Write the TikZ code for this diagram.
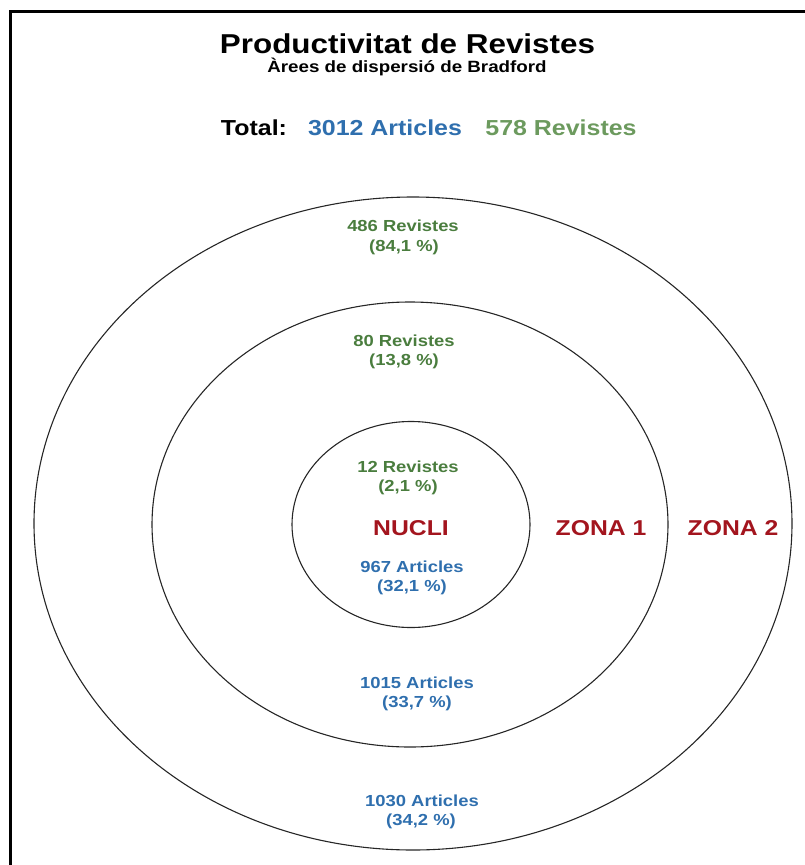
\documentclass[tikz,border=0pt]{standalone}
\usepackage{fontspec}
\usepackage{tikz}
\usetikzlibrary{positioning}
\newfontfamily\diagfont{Liberation Sans}[FakeStretch=1.15]
\definecolor{rgreen}{HTML}{4A7D3E}
\definecolor{lgreen}{HTML}{6C9A5E}
\definecolor{ablue}{HTML}{2F6FAE}
\definecolor{zred}{HTML}{A3151E}
\tikzset{
  txt/.style    = {inner sep=0pt, anchor=base, font=\diagfont\bfseries},
  big/.style    = {txt, font=\diagfont\bfseries\fontsize{27.3}{30}\selectfont},
  sub/.style    = {txt, font=\diagfont\bfseries\fontsize{16.3}{18}\selectfont},
  tot/.style    = {txt, font=\diagfont\bfseries\fontsize{21.7}{24}\selectfont},
  zone/.style   = {txt, text=zred, font=\diagfont\bfseries\fontsize{21.5}{24}\selectfont},
  rev/.style    = {txt, text=rgreen, font=\diagfont\bfseries\fontsize{16}{18}\selectfont},
  art/.style    = {txt, text=ablue, font=\diagfont\bfseries\fontsize{16}{18}\selectfont},
  ring/.style   = {draw=black!85, line width=1.1pt},
}
\begin{document}
\begin{tikzpicture}[x=1pt, y=-1pt]
\useasboundingbox (0,0) rectangle (805,865);
% ---------- frame ----------
\draw[line width=3pt] (10.5,865) -- (10.5,11.5) -- (805,11.5);
% ---------- header ----------
\node[big] (title) at (407.5,53) {Productivitat de Revistes};
\node[sub] (subtitle) at (407,72) {Àrees de dispersió de Bradford};
\node[tot] (total) at (254,135) {Total:};
\node[tot, text=ablue] (totart) at (385,135) {3012 Articles};
\node[tot, text=lgreen] (totrev) at (561,135) {578 Revistes};
% ---------- rings ----------
\draw[ring] (413,523.5) ellipse [x radius=379, y radius=326.5];
\draw[ring] (410,524.5) ellipse [x radius=258, y radius=222.5];
\draw[ring] (411,524.5) ellipse [x radius=119, y radius=103];
% ---------- zone 2 ----------
\node[rev] (revB) at (403,231) {486 Revistes};
\node[rev] (revBp) at (404,251) {(84,1 \%)};
\node[zone] (zoneB) at (733,535) {ZONA 2};
\node[art] (artB) at (422,806) {1030 Articles};
\node[art] (artBp) at (421,825) {(34,2 \%)};
% ---------- zone 1 ----------
\node[rev] (revA) at (404,346) {80 Revistes};
\node[rev] (revAp) at (404,365) {(13,8 \%)};
\node[zone] (zoneA) at (601,535) {ZONA 1};
\node[art] (artA) at (417,688) {1015 Articles};
\node[art] (artAp) at (417,707) {(33,7 \%)};
% ---------- nucli ----------
\node[rev] (revN) at (408,472) {12 Revistes};
\node[rev] (revNp) at (408,491) {(2,1 \%)};
\node[zone] (nucli) at (411,535) {NUCLI};
\node[art] (artN) at (412,572) {967 Articles};
\node[art] (artNp) at (412,591) {(32,1 \%)};
\end{tikzpicture}
\end{document}
